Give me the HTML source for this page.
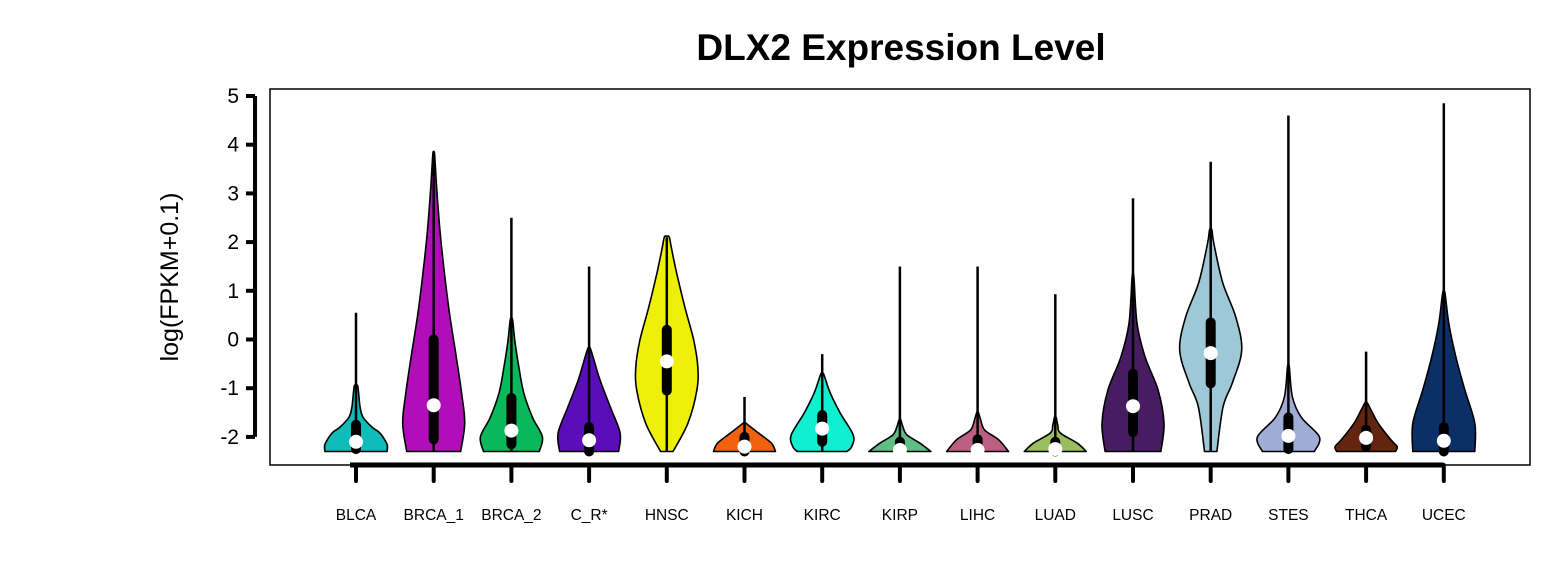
<!DOCTYPE html>
<html><head><meta charset="utf-8"><style>
html,body{margin:0;padding:0;background:#fff}
svg{display:block;font-family:"Liberation Sans",Arial,sans-serif}
</style></head><body>
<svg id="chart" width="1560" height="586" viewBox="0 0 1560 586">
<rect x="0" y="0" width="1560" height="586" fill="#fff"/>
<text x="901" y="60" text-anchor="middle" font-size="37" font-weight="bold">DLX2 Expression Level</text>
<rect x="270" y="89" width="1260" height="376" fill="none" stroke="#000" stroke-width="1.5"/>
<text transform="translate(178,277) rotate(-90)" text-anchor="middle" font-size="25">log(FPKM+0.1)</text>
<g id="yaxis"></g>
<g id="violins"></g>
<g id="xaxis"></g>
</svg>
<script>
const categories=["BLCA","BRCA_1","BRCA_2","C_R*","HNSC","KICH","KIRC","KIRP","LIHC","LUAD","LUSC","PRAD","STES","THCA","UCEC"];
const colors=["#0fbcb8","#b10db8","#0ab85c","#5a0db8","#eef00a","#f06210","#10f0d0","#5fbd85","#bd5f85","#9bbd5f","#481c62","#9ec8d5","#9fadd5","#62250f","#0c2f66"];
const medians=[-2.1,-1.35,-1.87,-2.07,-0.45,-2.2,-1.83,-2.27,-2.27,-2.25,-1.37,-0.28,-1.98,-2.02,-2.08];
const q1s=[-2.25,-2.05,-2.15,-2.3,-1.05,-2.3,-2.1,-2.3,-2.3,-2.3,-1.9,-0.9,-2.25,-2.2,-2.3];
const q3s=[-1.75,0.0,-1.2,-1.8,0.2,-2.0,-1.55,-2.1,-2.05,-2.1,-0.7,0.35,-1.6,-1.85,-1.8];
const whiskerTops=[0.55,3.8,2.5,1.5,2.1,-1.18,-0.3,1.5,1.5,0.93,2.9,3.65,4.6,-0.25,4.85];
const profileValues=[
[-2.3,-2.15,-1.92,-1.8,-1.6,-1.38,-0.97],
[-2.3,-1.72,-1.1,-0.28,0.67,2.05,3.07,3.8],
[-2.3,-2.0,-1.6,-1.1,-0.56,-0.02,0.4],
[-2.3,-1.92,-1.38,-0.83,-0.36,-0.18],
[-2.3,-1.72,-1.04,-0.56,-0.02,0.67,1.36,1.84,2.1],
[-2.3,-2.13,-1.92,-1.76,-1.72],
[-2.3,-2.2,-1.96,-1.51,-1.1,-0.77,-0.7],
[-2.3,-2.13,-1.96,-1.8,-1.65],
[-2.3,-2.06,-1.86,-1.65,-1.5],
[-2.3,-2.13,-1.92,-1.76,-1.6],
[-2.3,-1.72,-1.04,-0.36,0.33,1.28],
[-2.3,-1.38,-0.89,-0.22,0.46,1.16,1.98,2.25],
[-2.3,-2.0,-1.6,-1.18,-0.56],
[-2.3,-2.2,-2.06,-1.72,-1.45,-1.3],
[-2.3,-1.72,-1.04,-0.36,0.33,0.95]];
const profileDensity=[
[1.0,1.0,0.77,0.52,0.23,0.13,0.06],
[0.87,1.0,0.9,0.71,0.48,0.23,0.1,0.03],
[0.9,1.0,0.68,0.4,0.24,0.11,0.04],
[0.95,1.0,0.68,0.35,0.13,0.04],
[0.2,0.68,0.97,1.0,0.87,0.58,0.32,0.16,0.08],
[1.0,0.87,0.45,0.13,0.05],
[0.8,0.95,1.0,0.58,0.26,0.08,0.04],
[1.0,0.65,0.23,0.1,0.03],
[1.0,0.68,0.23,0.1,0.03],
[1.0,0.71,0.16,0.08,0.03],
[0.9,1.0,0.81,0.39,0.13,0.03],
[0.2,0.4,0.7,1.0,0.81,0.39,0.1,0.04],
[0.84,1.0,0.42,0.13,0.03],
[0.95,1.0,0.8,0.39,0.16,0.04],
[1.0,1.0,0.68,0.39,0.16,0.04]];
const yTicks=[5,4,3,2,1,0,-1,-2];
const yTickLabels=["5","4","3","2","1","0","-1","-2"];

const NS="http://www.w3.org/2000/svg";
function yScale(v){return 96+(5-v)*48.7;}
function xScale(i){return 356+i*77.7;}
const HW=31;
function mk(tag,attrs,parent){const e=document.createElementNS(NS,tag);for(const k in attrs)e.setAttribute(k,attrs[k]);parent.appendChild(e);return e;}
function smooth(pts){
  let d='';
  for(let k=0;k<pts.length-1;k++){
    const p0=pts[Math.max(k-1,0)],p1=pts[k],p2=pts[k+1],p3=pts[Math.min(k+2,pts.length-1)];
    const c1=[p1[0]+(p2[0]-p0[0])/6,p1[1]+(p2[1]-p0[1])/6];
    const c2=[p2[0]-(p3[0]-p1[0])/6,p2[1]-(p3[1]-p1[1])/6];
    d+=' C'+c1[0].toFixed(1)+','+c1[1].toFixed(1)+' '+c2[0].toFixed(1)+','+c2[1].toFixed(1)+' '+p2[0].toFixed(1)+','+p2[1].toFixed(1);
  }
  return d;
}

const ya=document.getElementById('yaxis');
const yl=mk('line',{x1:255,x2:255,y1:yScale(yTicks[0]),y2:yScale(yTicks[yTicks.length-1]),stroke:'#000','stroke-width':4},ya);


yTicks.forEach((t,i)=>{
  const tk=mk('line',{x1:246,x2:255,y1:yScale(t),y2:yScale(t),stroke:'#000','stroke-width':4},ya);
  
  
  const tx=mk('text',{x:239,y:yScale(t)+7,'text-anchor':'end','font-size':21},ya);
  tx.textContent=yTickLabels[i];
  
  
});

const vg=document.getElementById('violins');
categories.forEach((c,i)=>{
  const cx=xScale(i);
  const g=mk('g',{},vg);
  
  
  const vals=profileValues[i],dens=profileDensity[i];
  const right=vals.map((v,k)=>[cx+dens[k]*HW,yScale(v)]);
  const topY=yScale(vals[vals.length-1]);
  right.push([cx,topY-1]);
  const left=right.map(p=>[2*cx-p[0],p[1]]).reverse();
  let d='M'+right[0][0].toFixed(1)+','+right[0][1].toFixed(1)+smooth(right)+smooth(left)+' Z';
  const p=mk('path',{d:d,fill:colors[i],stroke:'#000','stroke-width':1.6,'stroke-linejoin':'round'},g);
  
  
  const w=mk('line',{x1:cx,x2:cx,y1:yScale(-2.3),y2:yScale(whiskerTops[i]),stroke:'#000','stroke-width':2.5},g);
  
  
  const b=mk('line',{x1:cx,x2:cx,y1:yScale(q1s[i]),y2:yScale(q3s[i]),stroke:'#000','stroke-width':10,'stroke-linecap':'round'},g);
  
  
  const m=mk('circle',{cx:cx,cy:yScale(medians[i]),r:7,fill:'#fff'},g);
  
  
});

const xa=document.getElementById('xaxis');
const xl=mk('line',{x1:xScale(0)-6,x2:xScale(categories.length-1),y1:465,y2:465,stroke:'#000','stroke-width':5},xa);


categories.forEach((c,i)=>{
  const tk=mk('line',{x1:xScale(i),x2:xScale(i),y1:465,y2:481,stroke:'#000','stroke-width':4,'stroke-linecap':'round'},xa);
  
  
  const tx=mk('text',{x:xScale(i),y:520,'text-anchor':'middle','font-size':15.5},xa);
  tx.textContent=c;
  
  
});
</script>
</body></html>
